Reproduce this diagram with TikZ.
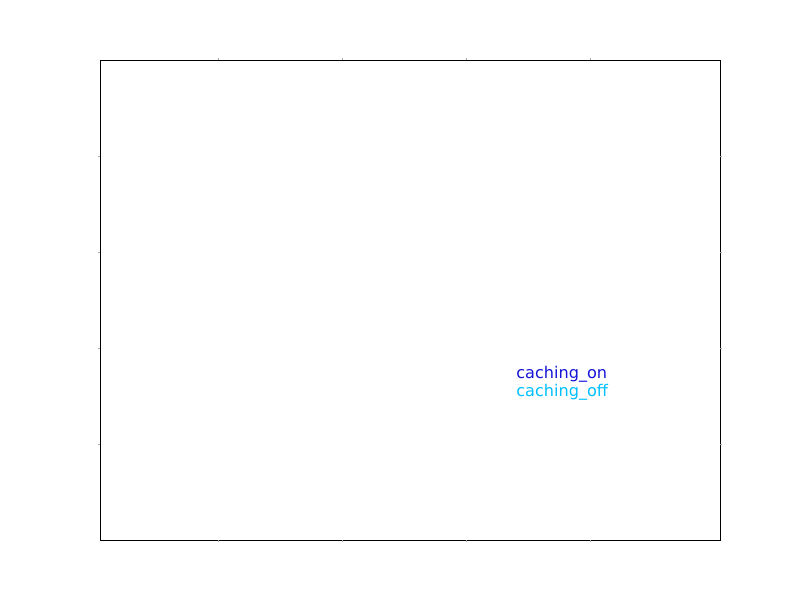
\documentclass[tikz,border=0pt]{standalone}
\usepackage{fontspec}
\setmainfont{DejaVu Sans}
\definecolor{lineon}{RGB}{20,20,215}
\definecolor{lineoff}{RGB}{0,191,255}

\begin{document}
\begin{tikzpicture}[x=0.72pt,y=-0.72pt,
    tick/.style={draw=black!35,line width=0.5pt},
    legendtext/.style={inner sep=0pt,anchor=base west,font=\fontsize{11.6}{13}\selectfont}]

    \useasboundingbox (0,0) rectangle (800,600);
    \node (axes) [draw, line width=0.8pt, minimum width=446.4pt, minimum height=345.6pt, inner sep=0pt, anchor=north west] at (100,60) {};

    \foreach \x in {218,342,466,590}
    {\draw[tick] (\x,60) -- ++(0,-2); \draw[tick] (\x,540) -- ++(0,2);}
    \foreach \y in {156,252,348,444}
    {\draw[tick] (100,\y) -- ++(-2,0); \draw[tick] (720,\y) -- ++(2,0);}

    \node (on) [legendtext, text=lineon] at (516,378) {caching\_on};
    \node (off) [legendtext, text=lineoff] at (516,396) {caching\_off};

\end{tikzpicture}
\end{document}
